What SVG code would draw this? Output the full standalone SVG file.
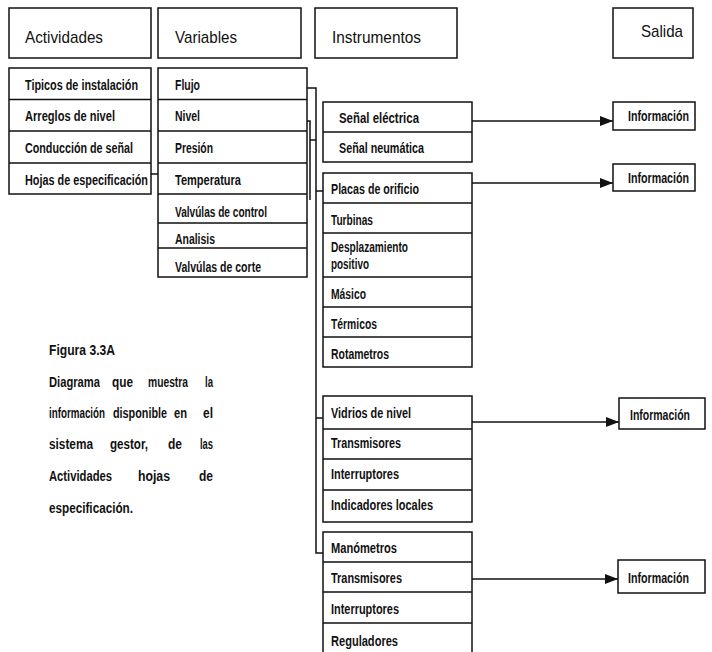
<svg xmlns="http://www.w3.org/2000/svg" width="712" height="652" viewBox="0 0 712 652">
  <defs>
    <style>
      .box { fill: #fff; stroke: #111; stroke-width: 1.5; }
      .div { stroke: #111; stroke-width: 1.3; fill: none; }
      .wire { stroke: #111; stroke-width: 1.5; fill: none; }
      .h { font-family: "Liberation Sans", Arial, sans-serif; font-size: 17px; fill: #111; }
      .t { font-family: "Liberation Sans", Arial, sans-serif; font-size: 14.5px; font-weight: bold; fill: #111; }
    </style>
    <marker id="arrow" viewBox="0 0 13 10" refX="13" refY="5" markerWidth="13" markerHeight="10" markerUnits="userSpaceOnUse" orient="auto">
      <path d="M0,0 L13,5 L0,10 z" fill="#111"/>
    </marker>
  </defs>
  <rect width="712" height="652" fill="#fff"/>

  <!-- column headers -->
  <g id="hdr-actividades">
    <rect class="box" x="9" y="8" width="142" height="50"/>
    <text class="h" x="25" y="43" textLength="78" lengthAdjust="spacingAndGlyphs">Actividades</text>
  </g>
  <g id="hdr-variables">
    <rect class="box" x="158" y="8" width="143" height="50"/>
    <text class="h" x="175" y="43" textLength="62" lengthAdjust="spacingAndGlyphs">Variables</text>
  </g>
  <g id="hdr-instrumentos">
    <rect class="box" x="315" y="8" width="142" height="50"/>
    <text class="h" x="332" y="43" textLength="89" lengthAdjust="spacingAndGlyphs">Instrumentos</text>
  </g>
  <g id="hdr-salida">
    <rect class="box" x="613" y="8" width="80" height="50"/>
    <text class="h" x="641" y="37" textLength="42" lengthAdjust="spacingAndGlyphs">Salida</text>
  </g>

  <!-- Actividades list -->
  <g id="actividades">
    <rect class="box" x="9" y="68" width="142" height="126"/>
    <path class="div" d="M9,99.5H151 M9,131H151 M9,163H151"/>
    <text class="t" x="25" y="90" textLength="113" lengthAdjust="spacingAndGlyphs">Tipicos de instalación</text>
    <text class="t" x="25" y="121" textLength="90" lengthAdjust="spacingAndGlyphs">Arreglos de nivel</text>
    <text class="t" x="25" y="153" textLength="108" lengthAdjust="spacingAndGlyphs">Conducción de señal</text>
    <text class="t" x="25" y="185" textLength="123" lengthAdjust="spacingAndGlyphs">Hojas de especificación</text>
  </g>

  <!-- Variables list -->
  <g id="variables">
    <rect class="box" x="158" y="68" width="149" height="209"/>
    <path class="div" d="M158,99.5H307 M158,131H307 M158,163H307 M158,194H307 M158,223H307 M158,248H307"/>
    <text class="t" x="175" y="90" textLength="25" lengthAdjust="spacingAndGlyphs">Flujo</text>
    <text class="t" x="175" y="121" textLength="25" lengthAdjust="spacingAndGlyphs">Nivel</text>
    <text class="t" x="175" y="153" textLength="38" lengthAdjust="spacingAndGlyphs">Presión</text>
    <text class="t" x="175" y="185" textLength="66" lengthAdjust="spacingAndGlyphs">Temperatura</text>
    <text class="t" x="175" y="217" textLength="92" lengthAdjust="spacingAndGlyphs">Valvúlas de control</text>
    <text class="t" x="175" y="244" textLength="40" lengthAdjust="spacingAndGlyphs">Analisis</text>
    <text class="t" x="175" y="272" textLength="86" lengthAdjust="spacingAndGlyphs">Valvúlas de corte</text>
  </g>

  <!-- Instrument groups -->
  <g id="senal">
    <rect class="box" x="323" y="102" width="149" height="60"/>
    <path class="div" d="M323,132H472"/>
    <text class="t" x="339" y="123" textLength="80" lengthAdjust="spacingAndGlyphs">Señal eléctrica</text>
    <text class="t" x="339" y="153" textLength="85" lengthAdjust="spacingAndGlyphs">Señal neumática</text>
  </g>
  <g id="flujo-instr">
    <rect class="box" x="323" y="173" width="149" height="194"/>
    <path class="div" d="M323,203H472 M323,233H472 M323,277H472 M323,307H472 M323,337H472"/>
    <text class="t" x="331" y="194" textLength="88" lengthAdjust="spacingAndGlyphs">Placas de orificio</text>
    <text class="t" x="331" y="225" textLength="42" lengthAdjust="spacingAndGlyphs">Turbinas</text>
    <text class="t" x="331" y="252" textLength="77" lengthAdjust="spacingAndGlyphs">Desplazamiento</text>
    <text class="t" x="331" y="269" textLength="38" lengthAdjust="spacingAndGlyphs">positivo</text>
    <text class="t" x="331" y="299" textLength="35" lengthAdjust="spacingAndGlyphs">Másico</text>
    <text class="t" x="331" y="329" textLength="46" lengthAdjust="spacingAndGlyphs">Térmicos</text>
    <text class="t" x="331" y="359" textLength="58" lengthAdjust="spacingAndGlyphs">Rotametros</text>
  </g>
  <g id="nivel-instr">
    <rect class="box" x="323" y="396" width="149" height="126"/>
    <path class="div" d="M323,429H472 M323,459H472 M323,490H472"/>
    <text class="t" x="331" y="418" textLength="80" lengthAdjust="spacingAndGlyphs">Vidrios de nivel</text>
    <text class="t" x="331" y="448" textLength="70" lengthAdjust="spacingAndGlyphs">Transmisores</text>
    <text class="t" x="331" y="479" textLength="68" lengthAdjust="spacingAndGlyphs">Interruptores</text>
    <text class="t" x="331" y="510" textLength="102" lengthAdjust="spacingAndGlyphs">Indicadores locales</text>
  </g>
  <g id="presion-instr">
    <rect class="box" x="323" y="532" width="149" height="130"/>
    <path class="div" d="M323,562H472 M323,592H472 M323,623H472"/>
    <text class="t" x="331" y="553" textLength="66" lengthAdjust="spacingAndGlyphs">Manómetros</text>
    <text class="t" x="331" y="583" textLength="71" lengthAdjust="spacingAndGlyphs">Transmisores</text>
    <text class="t" x="331" y="614" textLength="68" lengthAdjust="spacingAndGlyphs">Interruptores</text>
    <text class="t" x="331" y="646" textLength="67" lengthAdjust="spacingAndGlyphs">Reguladores</text>
  </g>

  <!-- Outputs -->
  <g id="info-1">
    <rect class="box" x="613" y="102" width="82" height="28"/>
    <text class="t" x="628" y="121" textLength="61" lengthAdjust="spacingAndGlyphs">Información</text>
  </g>
  <g id="info-2">
    <rect class="box" x="613" y="164" width="82" height="27"/>
    <text class="t" x="628" y="183" textLength="61" lengthAdjust="spacingAndGlyphs">Información</text>
  </g>
  <g id="info-3">
    <rect class="box" x="619" y="398" width="86" height="31"/>
    <text class="t" x="630" y="420" textLength="60" lengthAdjust="spacingAndGlyphs">Información</text>
  </g>
  <g id="info-4">
    <rect class="box" x="618" y="560" width="87" height="33"/>
    <text class="t" x="628" y="583" textLength="61" lengthAdjust="spacingAndGlyphs">Información</text>
  </g>

  <!-- Connectors -->
  <g id="connectors">
    <path class="wire" d="M151,174H158"/>
    <path class="wire" d="M307,88H316V553H323"/>
    <path class="wire" d="M307,121H310V200"/>
    <path class="wire" d="M310,140H316"/>
    <path class="wire" d="M316,191H323"/>
    <path class="wire" d="M316,418H323"/>
    <path class="wire" d="M472,121H613" marker-end="url(#arrow)"/>
    <path class="wire" d="M472,183H613" marker-end="url(#arrow)"/>
    <path class="wire" d="M472,422H619" marker-end="url(#arrow)"/>
    <path class="wire" d="M472,579H618" marker-end="url(#arrow)"/>
  </g>

  <!-- Caption, justified word by word -->
  <g id="caption">
    <text class="t" x="49" y="355" textLength="66" lengthAdjust="spacingAndGlyphs">Figura 3.3A</text>
    <text class="t" x="49" y="387" textLength="51" lengthAdjust="spacingAndGlyphs">Diagrama</text>
    <text class="t" x="112" y="387" textLength="21" lengthAdjust="spacingAndGlyphs">que</text>
    <text class="t" x="148" y="387" textLength="40" lengthAdjust="spacingAndGlyphs">muestra</text>
    <text class="t" x="205" y="387" textLength="8" lengthAdjust="spacingAndGlyphs">la</text>
    <text class="t" x="49" y="418" textLength="56" lengthAdjust="spacingAndGlyphs">información</text>
    <text class="t" x="113" y="418" textLength="54" lengthAdjust="spacingAndGlyphs">disponible</text>
    <text class="t" x="174" y="418" textLength="13" lengthAdjust="spacingAndGlyphs">en</text>
    <text class="t" x="203" y="418" textLength="10" lengthAdjust="spacingAndGlyphs">el</text>
    <text class="t" x="49" y="449" textLength="44" lengthAdjust="spacingAndGlyphs">sistema</text>
    <text class="t" x="110" y="449" textLength="38" lengthAdjust="spacingAndGlyphs">gestor,</text>
    <text class="t" x="168" y="449" textLength="14" lengthAdjust="spacingAndGlyphs">de</text>
    <text class="t" x="200" y="449" textLength="13" lengthAdjust="spacingAndGlyphs">las</text>
    <text class="t" x="49" y="481" textLength="63" lengthAdjust="spacingAndGlyphs">Actividades</text>
    <text class="t" x="138" y="481" textLength="32" lengthAdjust="spacingAndGlyphs">hojas</text>
    <text class="t" x="199" y="481" textLength="14" lengthAdjust="spacingAndGlyphs">de</text>
    <text class="t" x="49" y="513" textLength="84" lengthAdjust="spacingAndGlyphs">especificación.</text>
  </g>
</svg>
